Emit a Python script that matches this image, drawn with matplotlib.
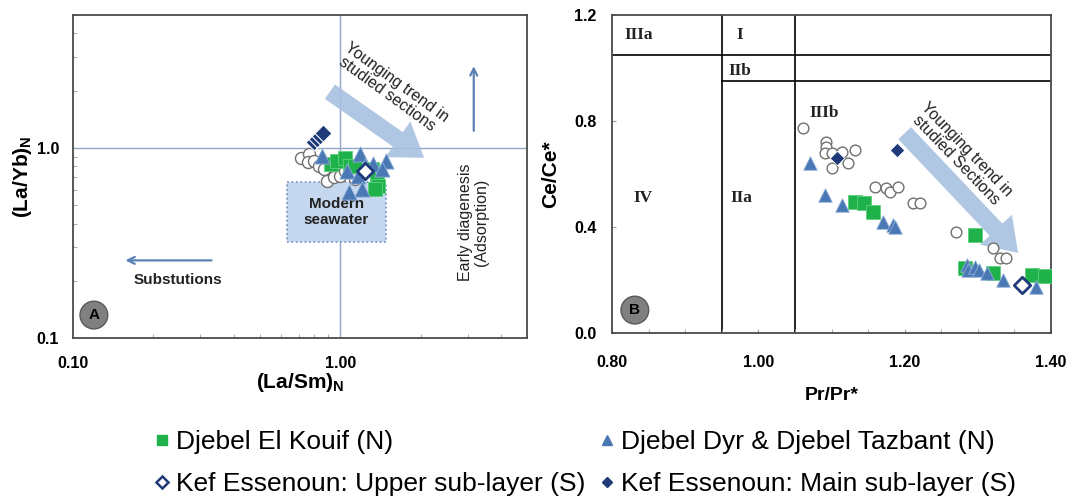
import matplotlib
matplotlib.use("Agg")
import matplotlib.pyplot as plt
from matplotlib.patches import Rectangle
from matplotlib.ticker import FixedLocator, NullFormatter, MultipleLocator

plt.rcParams['font.family'] = ['Liberation Sans', 'DejaVu Sans']
plt.rcParams['mathtext.fontset'] = 'custom'
plt.rcParams['mathtext.rm'] = 'Liberation Sans'
plt.rcParams['mathtext.bf'] = 'Liberation Sans:bold'

# ---- Panel A: (La/Sm)N vs (La/Yb)N ----
kouif_lasm = [0.92, 0.97, 1.046, 1.09, 1.14, 1.31, 1.37, 1.39, 1.35]
kouif_layb = [0.82, 0.855, 0.89, 0.80, 0.80, 0.774, 0.686, 0.633, 0.608]
dyr_lasm = [0.858, 1.19, 1.49, 1.06, 1.24, 1.17, 1.077, 1.21, 1.33, 1.43]
dyr_layb = [0.908, 0.927, 0.855, 0.758, 0.805, 0.714, 0.583, 0.608, 0.82, 0.774]
other_lasm = [0.713, 0.766, 0.755, 0.80, 0.834, 0.87, 0.895, 0.947, 1.0, 1.046, 1.14]
other_layb = [0.89, 0.927, 0.838, 0.855, 0.805, 0.774, 0.672, 0.70, 0.714, 0.758, 0.686]
upper_lasm = [1.24]
upper_layb = [0.758]
main_lasm = [0.80, 0.82, 0.84, 0.86]
main_layb = [1.08, 1.12, 1.16, 1.20]

# ---- Panel B: Pr/Pr* vs Ce/Ce* ----
kouif_pr = [1.132, 1.145, 1.157, 1.296, 1.282, 1.321, 1.374, 1.392]
kouif_ce = [0.495, 0.489, 0.456, 0.370, 0.244, 0.225, 0.218, 0.216]
dyr_pr = [1.071, 1.091, 1.114, 1.171, 1.184, 1.187, 1.285, 1.287, 1.296, 1.301, 1.312, 1.335, 1.380]
dyr_ce = [0.640, 0.521, 0.483, 0.420, 0.408, 0.401, 0.257, 0.238, 0.250, 0.238, 0.225, 0.200, 0.175]
other_pr = [1.061, 1.093, 1.092, 1.091, 1.100, 1.114, 1.100, 1.123, 1.132, 1.159, 1.175,
            1.180, 1.191, 1.212, 1.221, 1.270, 1.321, 1.330, 1.339]
other_ce = [0.772, 0.722, 0.703, 0.680, 0.678, 0.684, 0.621, 0.640, 0.691, 0.552, 0.546,
            0.533, 0.552, 0.489, 0.489, 0.382, 0.320, 0.282, 0.282]
upper_pr = [1.361]
upper_ce = [0.182]
main_pr = [1.107, 1.189]
main_ce = [0.659, 0.691]

labels = ['Djebel El Kouif (N)', 'Djebel Dyr & Djebel Tazbant (N)',
          'Kef Essenoun: Upper sub-layer (S)', 'Kef Essenoun: Main sub-layer (S)']

GREEN = '#1fb24a'
TRI = '#4a78b4'
NAVY = '#1e3a78'
CIRC = '#707070'
LINEBLUE = '#8ea7c6'
ARROW_LIGHT = '#a8c1e2'
ARROW_DARK = '#5a82b5'

fig = plt.figure(figsize=(10.72, 5.04), dpi=100)
axA = fig.add_axes([73/1072, 1-338/504, 454/1072, 323/504])
axB = fig.add_axes([612/1072, 1-333/504, 439/1072, 318/504])

# ---------- Panel A ----------
axA.set_xscale('log')
axA.set_yscale('log')
axA.set_xlim(0.1, 5)
axA.set_ylim(0.1, 5)
axA.axvline(1.0, color=LINEBLUE, lw=1.0, zorder=1)
axA.axhline(1.0, color=LINEBLUE, lw=1.0, zorder=1)
axA.add_patch(Rectangle((0.63, 0.32), 1.48-0.63, 0.66-0.32, fc='#c6d8ef',
                        ec='#6a8db8', ls=':', lw=1.2, zorder=1))
axA.text(0.965, 0.46, 'Modern\nseawater', ha='center', va='center',
         fontsize=11, fontweight='bold', color='#222222', zorder=2, linespacing=1.15)

axA.scatter(other_lasm, other_layb, s=75, marker='o', facecolor='white',
            edgecolor=CIRC, linewidths=1.0, zorder=3)
axA.scatter(kouif_lasm, kouif_layb, s=110, marker='s', color=GREEN,
            edgecolor='#5fd07f', linewidths=0.6, zorder=4)
axA.scatter(dyr_lasm, dyr_layb, s=120, marker='^', color=TRI,
            edgecolor='#8fb0d8', linewidths=0.6, zorder=5)
axA.scatter(main_lasm, main_layb, s=75, marker='D', color=NAVY,
            edgecolor='white', linewidths=0.8, zorder=5)
axA.scatter(upper_lasm, upper_layb, s=70, marker='D', facecolor='white',
            edgecolor=NAVY, linewidths=2.0, zorder=6)

axA.annotate('', xy=(2.06, 0.887), xytext=(0.915, 1.975),
             arrowprops=dict(arrowstyle='simple,head_length=1.1,head_width=1.5,tail_width=0.6',
                             fc=ARROW_LIGHT, ec='none', alpha=0.9, shrinkA=0, shrinkB=0,
                             mutation_scale=21), zorder=2)
axA.text(1.56, 2.06, 'Younging trend in\nstudied sections', rotation=-36,
         rotation_mode='anchor', ha='center', va='center', fontsize=11.5,
         color='#222222', linespacing=1.0, zorder=7)
axA.annotate('', xy=(0.157, 0.256), xytext=(0.33, 0.256),
             arrowprops=dict(arrowstyle='->,head_length=0.5,head_width=0.25',
                             color=ARROW_DARK, lw=1.6, shrinkA=0, shrinkB=0))
axA.text(0.246, 0.201, 'Substutions', ha='center', va='center', fontsize=11,
         fontweight='bold', color='#222222')
axA.annotate('', xy=(3.16, 2.69), xytext=(3.16, 1.23),
             arrowprops=dict(arrowstyle='->,head_length=0.5,head_width=0.25',
                             color=ARROW_DARK, lw=1.6, shrinkA=0, shrinkB=0))
axA.text(3.16, 0.406, 'Early diagenesis\n(Adsorption)', rotation=90, ha='center',
         va='center', fontsize=11.5, color='#222222', linespacing=1.1)

axA.xaxis.set_major_locator(FixedLocator([0.1, 1.0]))
axA.yaxis.set_major_locator(FixedLocator([0.1, 1.0]))
axA.set_xticklabels(['0.10', '1.00'])
axA.set_yticklabels(['0.1', '1.0'])
axA.xaxis.set_minor_formatter(NullFormatter())
axA.yaxis.set_minor_formatter(NullFormatter())
axA.tick_params(which='both', direction='in', color='#9a9a9a', labelsize=11.5)
axA.tick_params(which='major', length=0)
axA.tick_params(which='minor', length=3)
axA.tick_params(axis='x', pad=13)
axA.tick_params(axis='y', pad=10)
for lab in axA.get_xticklabels() + axA.get_yticklabels():
    lab.set_fontweight('bold')
axA.set_xlabel(r'$\mathbf{(La/Sm)}_{\mathbf{N}}$', fontsize=15, labelpad=0)
axA.set_ylabel(r'$\mathbf{(La/Yb)}_{\mathbf{N}}$', fontsize=15, labelpad=2)
for sp in axA.spines.values():
    sp.set_color('#4a4a4a')
    sp.set_linewidth(1.3)
axA.text(0.046, 0.071, 'A', transform=axA.transAxes, ha='center', va='center',
         fontsize=11, fontweight='bold', color='black',
         bbox=dict(boxstyle='circle,pad=0.45', fc='#808080', ec='#5a5a5a', lw=1.0))

# ---------- Panel B ----------
axB.set_xlim(0.8, 1.4)
axB.set_ylim(0.0, 1.2)
axB.axvline(0.95, color='black', lw=1.2, zorder=1)
axB.axvline(1.05, color='black', lw=1.2, zorder=1)
axB.axhline(1.05, color='black', lw=1.2, zorder=1)
axB.plot([0.95, 1.4], [0.95, 0.95], color='black', lw=1.2, zorder=1)
serif = dict(family=['Liberation Serif', 'DejaVu Serif'], fontweight='bold',
             fontsize=12.5, color='#222222', ha='center', va='center')
axB.text(0.837, 1.125, 'IIIa', **serif)
axB.text(0.975, 1.125, 'I', **serif)
axB.text(0.975, 0.99, 'IIb', **serif)
axB.text(0.843, 0.51, 'IV', **serif)
axB.text(0.977, 0.51, 'IIa', **serif)
axB.text(1.090, 0.83, 'IIIb', **serif)

axB.scatter(other_pr, other_ce, s=60, marker='o', facecolor='white',
            edgecolor=CIRC, linewidths=1.0, zorder=3)
axB.scatter(kouif_pr, kouif_ce, s=95, marker='s', color=GREEN,
            edgecolor='#5fd07f', linewidths=0.6, zorder=4)
axB.scatter(dyr_pr, dyr_ce, s=95, marker='^', color=TRI,
            edgecolor='#8fb0d8', linewidths=0.6, zorder=5)
axB.scatter(main_pr, main_ce, s=55, marker='D', color=NAVY,
            edgecolor='white', linewidths=0.6, zorder=5)
axB.scatter(upper_pr, upper_ce, s=70, marker='D', facecolor='white',
            edgecolor=NAVY, linewidths=2.0, zorder=6)

axB.annotate('', xy=(1.355, 0.302), xytext=(1.20, 0.754),
             arrowprops=dict(arrowstyle='simple,head_length=1.1,head_width=1.5,tail_width=0.6',
                             fc=ARROW_LIGHT, ec='none', alpha=0.9, shrinkA=0, shrinkB=0,
                             mutation_scale=21), zorder=2)
axB.text(1.277, 0.672, 'Younging trend in\nstudied Sections', rotation=-46,
         rotation_mode='anchor', ha='center', va='center', fontsize=11.5,
         color='#222222', linespacing=1.0, zorder=7)

axB.set_xticks([0.8, 1.0, 1.2, 1.4])
axB.set_xticklabels(['0.80', '1.00', '1.20', '1.40'])
axB.set_yticks([0.0, 0.4, 0.8, 1.2])
axB.set_yticklabels(['0.0', '0.4', '0.8', '1.2'])
axB.xaxis.set_minor_locator(MultipleLocator(0.05))
axB.tick_params(which='both', direction='in', color='#9a9a9a', labelsize=11.5)
axB.tick_params(which='major', length=3)
axB.tick_params(which='minor', length=3)
axB.tick_params(axis='x', pad=16)
axB.tick_params(axis='y', pad=11)
for lab in axB.get_xticklabels() + axB.get_yticklabels():
    lab.set_fontweight('bold')
axB.set_xlabel('Pr/Pr*', fontsize=14, fontweight='bold', labelpad=12)
axB.set_ylabel('Ce/Ce*', fontsize=15, fontweight='bold', labelpad=10)
for sp in axB.spines.values():
    sp.set_color('#4a4a4a')
    sp.set_linewidth(1.3)
axB.text(0.052, 0.072, 'B', transform=axB.transAxes, ha='center', va='center',
         fontsize=11, fontweight='bold', color='black',
         bbox=dict(boxstyle='circle,pad=0.45', fc='#808080', ec='#5a5a5a', lw=1.0))

# ---------- Legend ----------
h_kouif = plt.Line2D([], [], ls='none', marker='s', ms=7, color=GREEN)
h_dyr = plt.Line2D([], [], ls='none', marker='^', ms=7, color=TRI)
h_upper = plt.Line2D([], [], ls='none', marker='D', ms=6, mfc='white', mec=NAVY, mew=1.8)
h_main = plt.Line2D([], [], ls='none', marker='D', ms=5, color=NAVY)
fig.legend([h_kouif, h_upper, h_dyr, h_main], [labels[0], labels[2], labels[1], labels[3]],
           ncol=2, loc='upper left', bbox_to_anchor=(155/1072, 1-430/504),
           frameon=False, fontsize=19, handlelength=0.5, handletextpad=0.3,
           columnspacing=0.55, labelspacing=0.68, borderaxespad=0, borderpad=0)

fig.savefig('out.png', dpi=100)
